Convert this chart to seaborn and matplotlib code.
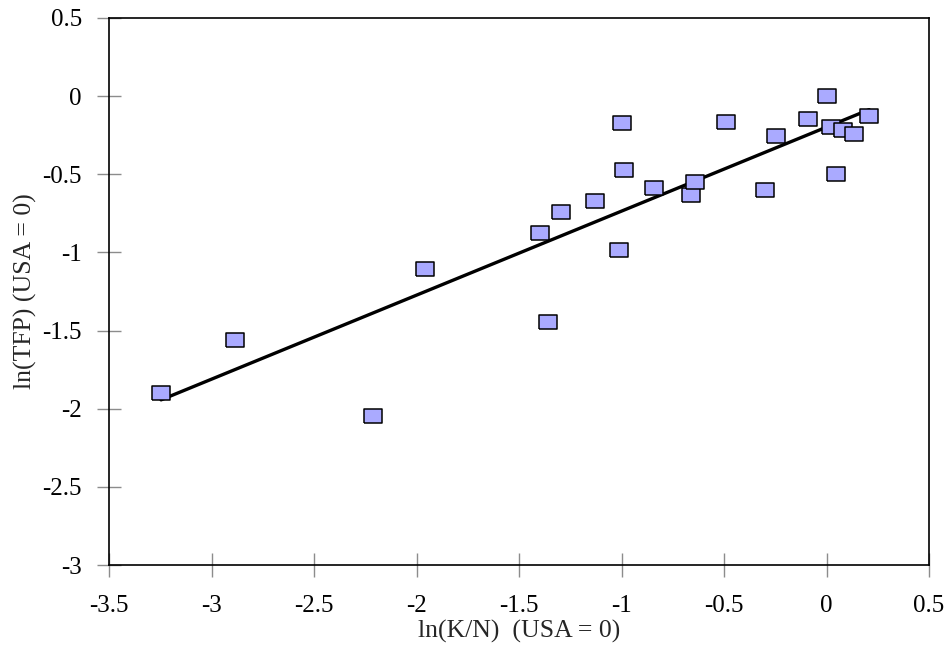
import numpy as np
import pandas as pd
import matplotlib
matplotlib.use("Agg")
import matplotlib.pyplot as plt
import seaborn as sns

# data
ln_kn = [-3.246, -2.885, -2.212, -1.959, -1.359, -1.40, -1.293, -1.129,
         -1.01, -0.998, -0.99, -0.84, -0.659, -0.64, -0.49, -0.30,
         -0.245, -0.09, 0.0, 0.023, 0.048, 0.08, 0.135, 0.208]
ln_tfp = [-1.897, -1.558, -2.044, -1.104, -1.445, -0.876, -0.742, -0.669,
          -0.985, -0.175, -0.473, -0.587, -0.63, -0.55, -0.164, -0.60,
          -0.257, -0.148, 0.0, -0.198, -0.498, -0.215, -0.24, -0.126]
x_ticks = [-3.5, -3, -2.5, -2, -1.5, -1, -0.5, 0, 0.5]
y_ticks = [-3, -2.5, -2, -1.5, -1, -0.5, 0, 0.5]
x_label = "ln(K/N)  (USA = 0)"
y_label = "ln(TFP) (USA = 0)"

df = pd.DataFrame({"x": ln_kn, "y": ln_tfp})

sns.set_theme(style="white")
plt.rcParams["font.family"] = ["Liberation Serif", "DejaVu Serif"]

fig = plt.figure(figsize=(9.48, 6.52), dpi=100)
ax = fig.add_axes([109/948, 1 - 565/652, (929-109)/948, (565-18)/652])

# trend line (least squares fit over data range)
sns.regplot(data=df, x="x", y="y", ax=ax, ci=None, truncate=True, scatter=False,
            line_kws=dict(color="black", linewidth=2.4, zorder=2))

rect = [(-1, -0.75), (1, -0.75), (1, 0.75), (-1, 0.75), (-1, -0.75)]
sns.scatterplot(data=df, x="x", y="y", ax=ax, marker=rect, s=175,
                color="#AAAAFF", edgecolor="black", linewidth=1.1, zorder=3)

ax.set_xlim(-3.5, 0.5)
ax.set_ylim(-3, 0.5)
ax.set_xticks(x_ticks)
ax.set_yticks(y_ticks)
ax.set_xticklabels([f"{t:g}" for t in x_ticks])
ax.set_yticklabels([f"{t:g}" for t in y_ticks])
ax.tick_params(axis="both", which="major", bottom=True, left=True,
               direction="inout", length=17, width=1,
               color="#8c8c8c", labelcolor="black", labelsize=18)
ax.tick_params(axis="x", pad=13)
ax.tick_params(axis="y", pad=11)
for s in ax.spines.values():
    s.set_color("black")
    s.set_linewidth(1.2)
    s.set_visible(True)

ax.set_xlabel(x_label, fontsize=18.5, labelpad=2)
ax.set_ylabel(y_label, fontsize=18.5, labelpad=4)

fig.savefig("out.png", dpi=100)
